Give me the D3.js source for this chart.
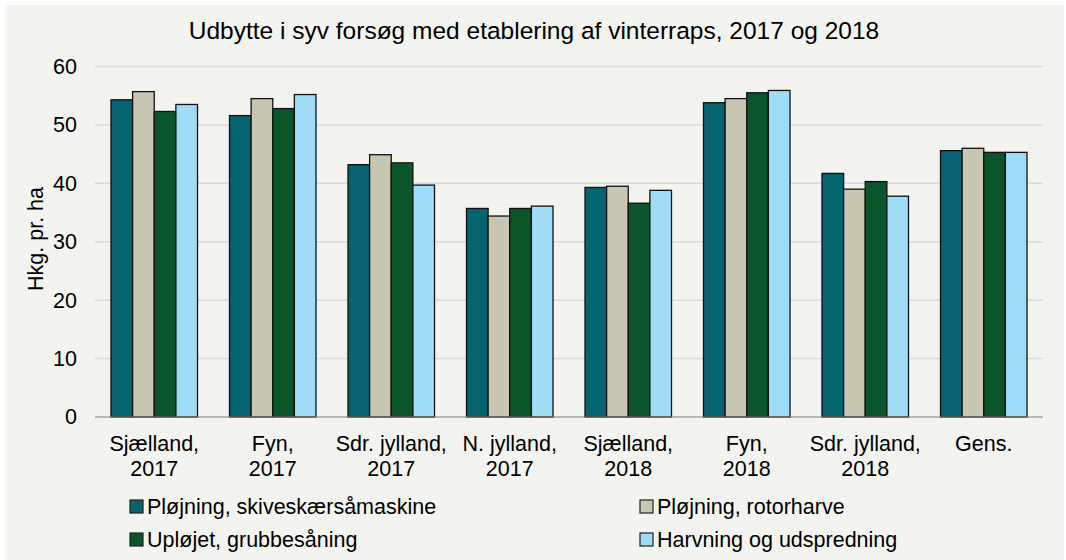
<!DOCTYPE html>
<html>
<head>
<meta charset="utf-8">
<script src="https://cdn.jsdelivr.net/npm/d3@7"></script>
<style>
  body { margin: 0; background: #ffffff; }
  text { font-family: "Liberation Sans", Arial, sans-serif; fill: #000; }
</style>
</head>
<body>
<div class="chart"></div>
<script>
// categories (two-line labels) and series values
var categories = [
    ["Sjælland,", "2017"], ["Fyn,", "2017"], ["Sdr. jylland,", "2017"], ["N. jylland,", "2017"],
    ["Sjælland,", "2018"], ["Fyn,", "2018"], ["Sdr. jylland,", "2018"], ["Gens."]
];
var seriesNames = [
    "Pløjning, skiveskærsåmaskine",
    "Pløjning, rotorharve",
    "Upløjet, grubbesåning",
    "Harvning og udspredning"
];
var skiveskaer = [54.3, 51.6, 43.2, 35.7, 39.3, 53.8, 41.7, 45.6];
var rotorharve = [55.7, 54.5, 44.9, 34.4, 39.5, 54.5, 39.0, 46.0];
var grubbe     = [52.3, 52.8, 43.5, 35.7, 36.6, 55.5, 40.3, 45.3];
var harvning   = [53.5, 55.2, 39.7, 36.1, 38.8, 55.9, 37.8, 45.3];
var yTicks = [0, 10, 20, 30, 40, 50, 60];
var colors = ["#05646f", "#c8c7b2", "#0b552b", "#9fdcf7"];

var seriesValues = [skiveskaer, rotorharve, grubbe, harvning];

var W = 1066, H = 560;
var margin = { top: 66.5, right: 23, bottom: 143, left: 95 },
    width = W - margin.left - margin.right,
    height = H - margin.top - margin.bottom;

var svg = d3.select(".chart")
    .append("svg")
    .attr("width", W)
    .attr("height", H);

// chart area background
svg.append("rect")
    .attr("x", 5).attr("y", 5)
    .attr("width", W - 7).attr("height", H - 5)
    .attr("fill", "#f3f3ef");

// title
svg.append("text")
    .attr("x", 534).attr("y", 38.5)
    .attr("text-anchor", "middle")
    .style("font-size", "24.5px")
    .text("Udbytte i syv forsøg med etablering af vinterraps, 2017 og 2018");

var g = svg.append("g")
    .attr("transform", "translate(" + margin.left + "," + margin.top + ")");

var x0 = d3.scaleBand()
    .domain(d3.range(categories.length))
    .range([0, width])
    .paddingInner(0.27)
    .paddingOuter(0.135);

var x1 = d3.scaleBand()
    .domain(d3.range(seriesNames.length))
    .range([0, x0.bandwidth()]);

var y = d3.scaleLinear()
    .domain([0, 60])
    .range([height, 0]);

// gridlines
g.append("g")
    .selectAll("line")
    .data(yTicks.slice(1))
    .enter().append("line")
    .attr("x1", 0).attr("x2", width)
    .attr("y1", function (d) { return y(d); })
    .attr("y2", function (d) { return y(d); })
    .attr("stroke", "#d9d9d9")
    .attr("stroke-width", 1.5);

// y axis labels
var yAxis = g.append("g")
    .call(d3.axisLeft(y).tickValues(yTicks).tickSize(0).tickPadding(18));
yAxis.select(".domain").remove();
yAxis.selectAll("text")
    .style("font-size", "21.5px")
    .style("font-family", "'Liberation Sans', Arial, sans-serif")
    .attr("fill", "#000");

// bars
g.append("g")
    .selectAll("g")
    .data(seriesValues)
    .enter().append("g")
    .attr("fill", function (d, i) { return colors[i]; })
    .attr("transform", function (d, i) { return "translate(" + x1(i) + ",0)"; })
    .selectAll("rect")
    .data(function (d) { return d; })
    .enter().append("rect")
    .attr("x", function (d, i) { return x0(i); })
    .attr("y", function (d) { return y(d); })
    .attr("width", x1.bandwidth())
    .attr("height", function (d) { return y(0) - y(d); })
    .attr("stroke", "#111")
    .attr("stroke-width", 1.3);

// x axis line
g.append("line")
    .attr("x1", 0).attr("x2", width)
    .attr("y1", y(0)).attr("y2", y(0))
    .attr("stroke", "#7f7f7f")
    .attr("stroke-width", 1.2);

// category labels
var catLabels = g.append("g")
    .selectAll("text")
    .data(categories)
    .enter().append("text")
    .attr("text-anchor", "middle")
    .attr("transform", function (d, i) {
        return "translate(" + (x0(i) + x0.bandwidth() / 2) + "," + (height + 33.5) + ")";
    })
    .style("font-size", "21.5px");
catLabels.selectAll("tspan")
    .data(function (d) { return d; })
    .enter().append("tspan")
    .attr("x", 0)
    .attr("dy", function (d, i) { return i === 0 ? 0 : 25.5; })
    .text(function (d) { return d; });

// y axis title
svg.append("text")
    .attr("transform", "translate(43,239) rotate(-90)")
    .attr("text-anchor", "middle")
    .style("font-size", "21.5px")
    .text("Hkg. pr. ha");

// legend
var legendPos = [[130, 500], [640, 500], [130, 533], [640, 533]];
var legend = svg.append("g")
    .selectAll("g")
    .data(seriesNames)
    .enter().append("g")
    .attr("transform", function (d, i) {
        return "translate(" + legendPos[i][0] + "," + legendPos[i][1] + ")";
    });
legend.append("rect")
    .attr("width", 13).attr("height", 13)
    .attr("fill", function (d, i) { return colors[i]; })
    .attr("stroke", "#222")
    .attr("stroke-width", 1.2);
legend.append("text")
    .attr("x", 17).attr("y", 13.5)
    .style("font-size", "21.5px")
    .text(function (d) { return d; });
</script>
</body>
</html>
